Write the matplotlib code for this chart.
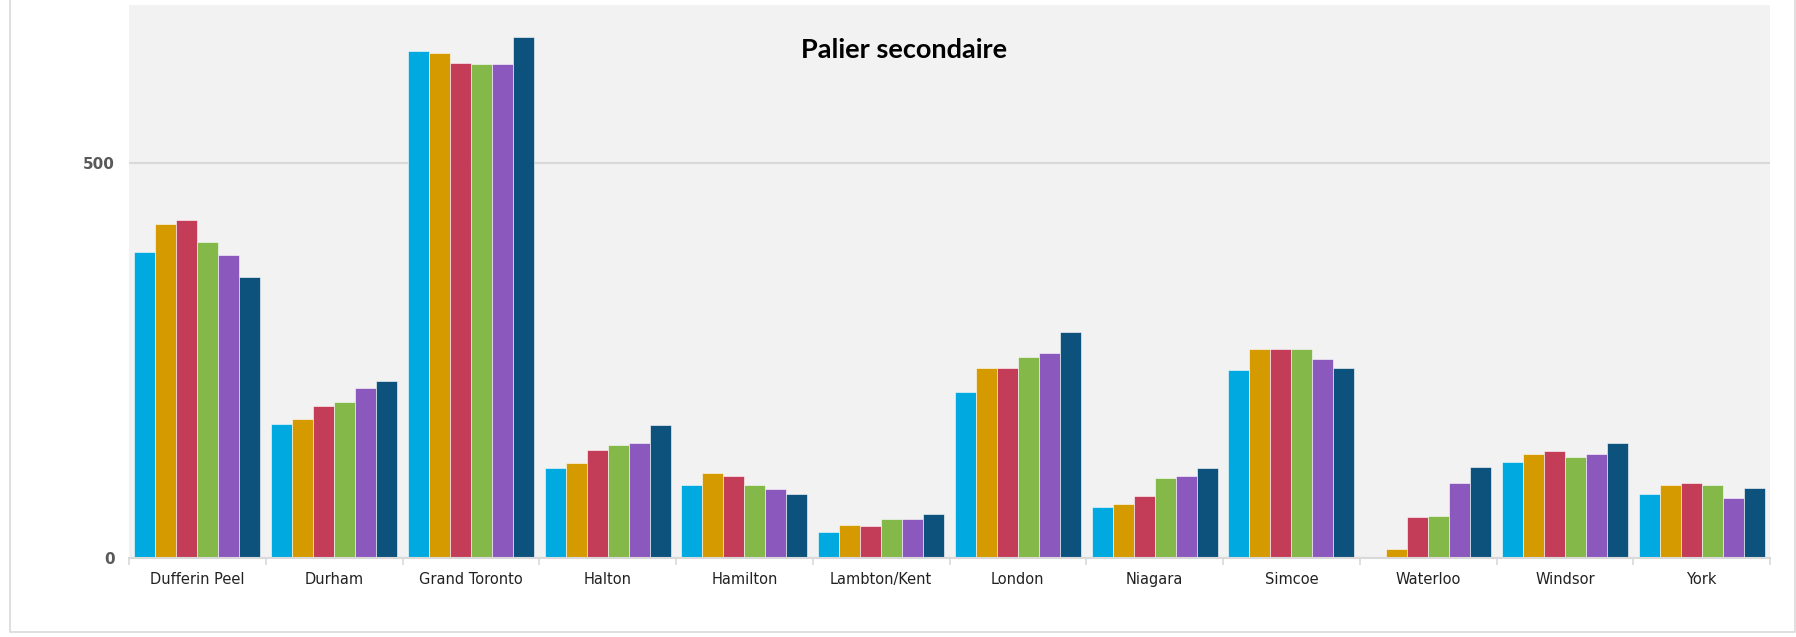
import matplotlib
matplotlib.use("Agg")
import matplotlib.pyplot as plt
import numpy as np
from matplotlib.lines import Line2D

categories = ["Dufferin Peel", "Durham", "Grand Toronto", "Halton", "Hamilton",
              "Lambton/Kent", "London", "Niagara", "Simcoe", "Waterloo", "Windsor", "York"]

s1 = [387, 170, 642, 114, 92, 33, 210, 64, 238, 0, 121, 81]
s2 = [423, 176, 639, 120, 108, 42, 240, 68, 264, 11, 132, 92]
s3 = [428, 193, 627, 137, 104, 41, 241, 79, 264, 52, 136, 95]
s4 = [400, 198, 625, 143, 92, 50, 254, 101, 264, 53, 128, 92]
s5 = [383, 215, 625, 146, 87, 50, 260, 104, 252, 95, 132, 76]
s6 = [356, 224, 659, 168, 81, 56, 286, 114, 240, 115, 145, 89]
series = [s1, s2, s3, s4, s5, s6]
colors = ["#00A9E0", "#D59A00", "#C43D58", "#84B848", "#8B58BE", "#0D527C"]

title = "Palier secondaire"

plt.rcParams["font.family"] = ["DejaVu Sans"]

W, H = 1796, 637
fig = plt.figure(figsize=(W / 100, H / 100), dpi=100)
fig.patch.set_facecolor("white")

# outer frame (left, bottom, right)
fx = [9.5 / W, 9.5 / W, 1794.5 / W, 1794.5 / W]
fy = [1.0, 1 - 632 / H, 1 - 632 / H, 1.0]
fig.lines.append(Line2D(fx, fy, transform=fig.transFigure,
                        color="#D9D9D9", lw=1.2))

ax = fig.add_axes([129 / W, (H - 558) / H, (1770 - 129) / W, (558 - 5) / H])
ax.set_facecolor("#F2F2F2")

n = len(series)
group = 0.92
bw = group / n
x = np.arange(len(categories))
for i, (vals, c) in enumerate(zip(series, colors)):
    ax.bar(x - group / 2 + bw * (i + 0.5), vals, width=bw, color=c,
           edgecolor="#FFFFFF", linewidth=0.4, zorder=3)

ax.set_xlim(-0.5, len(categories) - 0.5)
ax.set_ylim(0, 700)
ax.set_yticks([0, 500])
ax.set_yticklabels(["0", "500"], fontsize=11, color="#595959", fontweight="bold")
ax.yaxis.grid(True, color="#D9D9D9", lw=1.5, zorder=0)
ax.tick_params(axis="y", length=0, pad=10.5)

ax.set_xticks(x)
ax.set_xticklabels(categories, fontsize=10.5, color="#222222", va="baseline")
ax.set_xticks(np.arange(len(categories) + 1) - 0.5, minor=True)
ax.tick_params(axis="x", which="major", length=0, pad=18.5)
ax.tick_params(axis="x", which="minor", length=5, color="#D9D9D9", width=1.2)

for sp in ["top", "right", "left"]:
    ax.spines[sp].set_visible(False)
ax.spines["bottom"].set_color("#D9D9D9")
ax.spines["bottom"].set_linewidth(1.5)
ax.spines["bottom"].set_zorder(4)

fig.text(904 / W, 1 - 50 / H, title, ha="center", va="center",
         fontsize=19.5, fontweight="bold", family="Lato", color="#000000")

fig.savefig("out.png", dpi=100, facecolor="white")
